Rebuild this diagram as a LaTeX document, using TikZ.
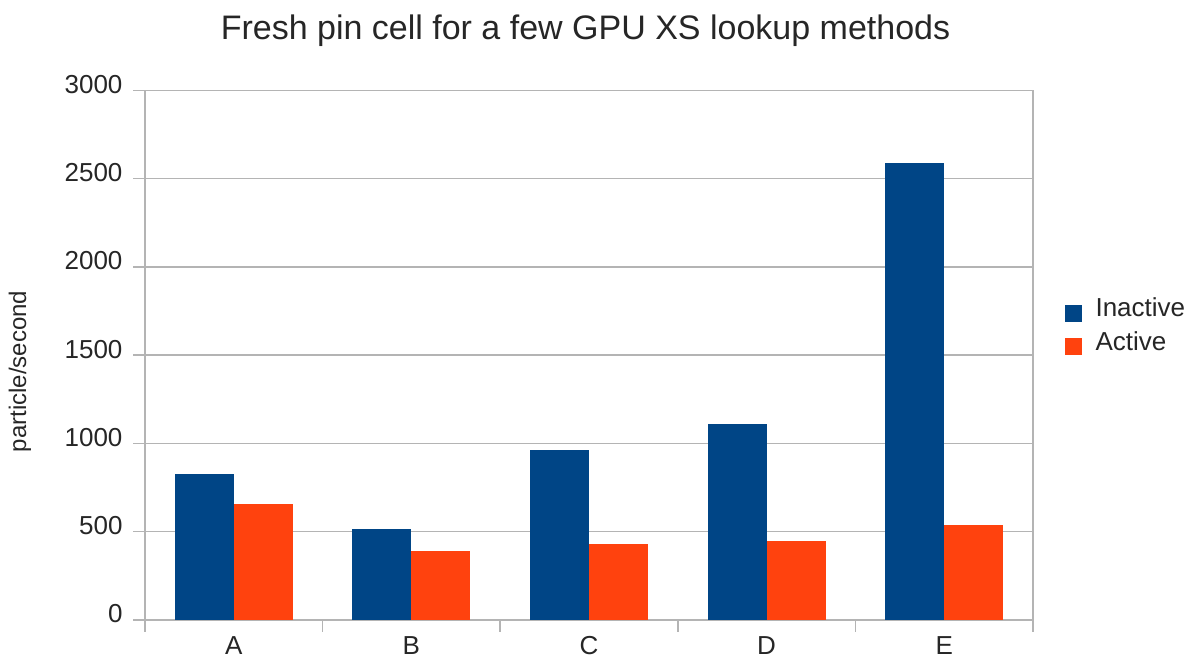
\documentclass[tikz,border=0pt]{standalone}
\usepackage{fontspec}
\setmainfont{Liberation Sans}
\definecolor{inactivecol}{RGB}{0,69,134}
\definecolor{activecol}{RGB}{255,66,14}
\definecolor{gridcol}{RGB}{180,180,180}

\begin{document}
\begin{tikzpicture}[
  x=1pt, y=1pt,
  font=\fontsize{26}{30}\selectfont,
  grid/.style={draw=gridcol, line width=1.5pt},
  inbar/.style={fill=inactivecol},
  actbar/.style={fill=activecol},
  ticklab/.style={anchor=base east, text=black!85},
  catlab/.style={anchor=base, inner sep=0pt, text=black!85},
  legkey/.style={minimum size=17pt, inner sep=0pt},
  legtext/.style={anchor=base west, text=black!85}
]
\useasboundingbox (0,0) rectangle (1189,660);

\node[anchor=base, font=\fontsize{34}{40}\selectfont, text=black!85] (title) at (585.5,620)
  {Fresh pin cell for a few GPU XS lookup methods};
\node[rotate=90, font=\fontsize{24}{28}\selectfont, text=black!85] (ylabel) at (20,288.5)
  {particle/second};

\begin{scope}[shift={(145,40)}, x=177.6pt, y=0.1765pt]
% grid and axes
\draw[grid] ([xshift=-12pt]0,0) -- (5,0);
\draw[grid] ([xshift=-12pt]0,500) -- (5,500);
\draw[grid] ([xshift=-12pt]0,1000) -- (5,1000);
\draw[grid] ([xshift=-12pt]0,1500) -- (5,1500);
\draw[grid] ([xshift=-12pt]0,2000) -- (5,2000);
\draw[grid] ([xshift=-12pt]0,2500) -- (5,2500);
\draw[grid] ([xshift=-12pt]0,3000) -- (5,3000);
\draw[grid] ([yshift=-12pt]0,0) -- (0,3000);
\draw[grid] ([yshift=-12pt]5,0) -- (5,3000);
\draw[grid] ([yshift=-12pt]1,0) -- (1,0);
\draw[grid] ([yshift=-12pt]2,0) -- (2,0);
\draw[grid] ([yshift=-12pt]3,0) -- (3,0);
\draw[grid] ([yshift=-12pt]4,0) -- (4,0);

\node[ticklab] (t0) at ([xshift=-19pt, yshift=-3pt]0,0) {0};
\node[ticklab] (t500) at ([xshift=-19pt, yshift=-3pt]0,500) {500};
\node[ticklab] (t1000) at ([xshift=-19pt, yshift=-3pt]0,1000) {1000};
\node[ticklab] (t1500) at ([xshift=-19pt, yshift=-3pt]0,1500) {1500};
\node[ticklab] (t2000) at ([xshift=-19pt, yshift=-3pt]0,2000) {2000};
\node[ticklab] (t2500) at ([xshift=-19pt, yshift=-3pt]0,2500) {2500};
\node[ticklab] (t3000) at ([xshift=-19pt, yshift=-3pt]0,3000) {3000};

% bars
\fill[inbar] (0.168,0) rectangle (0.5,825);
\fill[actbar] (0.5,0) rectangle (0.832,660);
\fill[inbar] (1.168,0) rectangle (1.5,515);
\fill[actbar] (1.5,0) rectangle (1.832,393);
\fill[inbar] (2.168,0) rectangle (2.5,965);
\fill[actbar] (2.5,0) rectangle (2.832,430);
\fill[inbar] (3.168,0) rectangle (3.5,1113);
\fill[actbar] (3.5,0) rectangle (3.832,448);
\fill[inbar] (4.168,0) rectangle (4.5,2587);
\fill[actbar] (4.5,0) rectangle (4.832,536);

\node[catlab] (catA) at ([yshift=-35pt]0.5,0) {A};
\node[catlab] (catB) at ([yshift=-35pt]1.5,0) {B};
\node[catlab] (catC) at ([yshift=-35pt]2.5,0) {C};
\node[catlab] (catD) at ([yshift=-35pt]3.5,0) {D};
\node[catlab] (catE) at ([yshift=-35pt]4.5,0) {E};
\end{scope}

% legend
\node[legkey, fill=inactivecol] (keyin) at (1073.5,346.5) {};
\node[legkey, fill=activecol] (keyact) at (1073.5,313) {};
\node[legtext] (legin) at (1092,343) {Inactive};
\node[legtext] (legact) at (1092,309) {Active};

\end{tikzpicture}
\end{document}
